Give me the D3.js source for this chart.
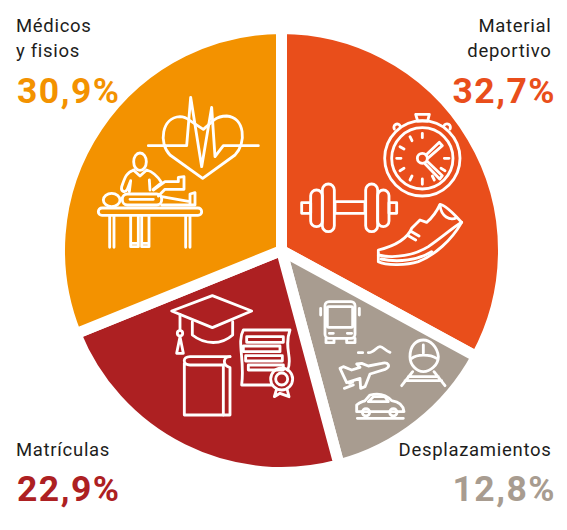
<!DOCTYPE html>
<html><head><meta charset="utf-8">
<style>html,body{margin:0;padding:0;background:#fff}svg{display:block}
.icon path,.icon rect,.icon circle,.icon ellipse,.icon line{fill:none;stroke:#fff;stroke-width:8.5;stroke-linejoin:round;stroke-linecap:round}</style>
<script src="https://cdn.jsdelivr.net/npm/d3@7/dist/d3.min.js"></script>
</head><body><svg id="c" width="567" height="530" viewBox="0 0 567 530"></svg>
<script>
const categories=[["Material","deportivo"],["Desplazamientos"],["Matrículas"],["Médicos","y fisios"]];
const values=[32.7,12.8,22.9,30.9];
const sliceColors=["#E94E1B","#A89C90","#AD2022","#F39200"];

const svg=d3.select("#c");
const cx=281.5,cy=250.5,R=216.5,gap=11;
const arcs=d3.pie().sort(null).value(d=>d)(values);
const arc=d3.arc().innerRadius(0).outerRadius(R+gap/2);
svg.append("g").attr("transform",`translate(${cx},${cy})`).selectAll("path").data(arcs).join("path")
 .attr("d",arc).attr("fill",(d,i)=>sliceColors[i]).attr("stroke","#fff").attr("stroke-width",gap).attr("stroke-linejoin","miter");

const fmt=v=>d3.format(".1f")(v).replace(".",",")+"%";
const labelPos=[
 {x:551.5,y:32,anchor:"end",px:556,py:103},
 {x:551.5,y:456,anchor:"end",px:556,py:501},
 {x:16,y:456,anchor:"start",px:17,py:501},
 {x:16,y:32,anchor:"start",px:17,py:103}];
const lab=svg.append("g");
categories.forEach((lines,i)=>{
 const p=labelPos[i];
 lines.forEach((t,j)=>lab.append("text").text(t).attr("x",p.x).attr("y",p.y+j*25)
  .attr("text-anchor",p.anchor).attr("fill","#1d1d1b")
  .style("font-family","Roboto").style("font-size","18.5px").style("letter-spacing","0.7px"));
 lab.append("text").text(fmt(values[i])).attr("x",p.px).attr("y",p.py)
  .attr("text-anchor",p.anchor).attr("fill",sliceColors[i])
  .style("font-family","Roboto").style("font-weight","700").style("font-size","35.5px").style("letter-spacing","1.5px");
});

const icons=[
{at:[90,90],html:`
<path d="M338 265L240 195C205 160 215 82 270 80C285 80 295 88 300 92L340 118L372 90C385 80 395 78 410 78C465 82 470 160 435 195Z"/>
<path d="M175 167H290L302 22L335 230L365 52L375 200L400 167H505"/>
<rect x="25" y="354" width="310" height="22" rx="11"/>
<path d="M59 377V472M72 377V472M287 377V472M300 377V472M122 377V470H145V377M155 377V470H177V377M122 460H145M155 460H177"/>
<ellipse cx="150" cy="215" rx="19" ry="26"/>
<path d="M132 240C108 248 105 262 95 290C92 305 105 310 112 298L122 272M122 272L118 305M178 270L180 300M130 240L150 258L170 240C188 245 205 262 215 278L190 298"/>
<ellipse cx="65" cy="330" rx="25" ry="20"/>
<rect x="97" y="312" width="118" height="33" rx="15"/>
<path d="M120 328H190M190 300L225 275H265V262L282 260V298H225L205 318M215 320L300 335V345H215M300 345V312L315 308V345H300"/>`},
{at:[295,105],html:`
<circle cx="382" cy="160" r="113"/><circle cx="382" cy="160" r="92"/><circle cx="382" cy="160" r="15"/>
<path d="M382 85V98M382 222V238M305 160H318M448 160H462M345 95L351 107M315 125L327 132M315 197L327 190M345 225L351 213M418 225L412 213M450 197L438 190"/>
<path d="M393 150L433 112L442 122L398 160M398 170L442 212L434 222L390 176"/>
<path d="M362 28H403L398 48H368ZM298 72A9 9 0 0 1 315 62M447 62A9 9 0 0 1 465 72"/>
<rect x="120" y="290" width="90" height="35"/>
<rect x="82" y="237" width="36" height="143" rx="18"/><rect x="47" y="255" width="35" height="110" rx="17"/><rect x="20" y="293" width="27" height="32"/>
<rect x="212" y="237" width="36" height="143" rx="18"/><rect x="248" y="255" width="34" height="110" rx="17"/><rect x="282" y="293" width="23" height="32"/>
<path d="M250 435C290 425 335 405 350 370L375 345L395 352C415 335 425 320 435 298C450 300 480 330 500 352C470 405 420 450 370 470C330 483 270 480 250 470Z"/>
<path d="M250 450C300 462 360 450 400 425C440 398 470 370 500 352M258 462C310 474 370 465 410 440M350 380L372 393M340 392L362 405M435 300C438 335 465 348 485 338"/>`},
{at:[165,285],html:`
<path d="M20 78L142 32L260 78L142 128Z"/>
<path d="M82 110V150C120 180 170 180 203 150V110"/>
<path d="M45 88V135M45 155L35 205H55Z"/><circle cx="45" cy="145" r="8"/>
<path d="M195 215H75C52 215 52 240 75 240H175V390H58V235"/><path d="M195 215C175 215 170 240 195 248V390H175"/>
<path d="M320 300H230C240 225 215 170 235 135H375C355 190 385 220 368 255"/>
<rect x="245" y="155" width="110" height="17"/><rect x="235" y="183" width="110" height="17"/><rect x="242" y="212" width="110" height="16"/><rect x="250" y="240" width="105" height="15"/>
<circle cx="350" cy="282" r="33"/><circle cx="350" cy="282" r="18"/>
<path d="M335 312L328 335L345 325L372 335L366 312"/>`},
{at:[310,290],html:`
<rect x="45" y="35" width="90" height="110" rx="12"/>
<rect x="52" y="50" width="76" height="62" rx="4"/>
<path d="M32 55V75M148 55V75M48 145V158H72V145M110 145V158H135V145M58 130H70M112 130H125"/>
<path d="M145 188H158M175 188C190 190 200 170 210 170C220 170 225 182 240 187"/>
<path d="M90 235L100 230L125 240L150 232L140 222L155 220L175 228L215 220C235 215 245 230 225 238L180 252L165 290L152 295L150 265L110 278Z"/>
<path d="M103 295L130 285M118 280L128 276"/>
<path d="M300 200C300 165 320 150 340 150C360 150 382 170 385 200C385 225 360 245 340 245C320 245 300 225 300 200Z"/>
<path d="M305 205C320 192 360 192 380 205M340 165V190M275 287L308 245M405 287L372 245M295 260H385M285 272H395"/>
<path d="M140 365V345C150 335 160 335 165 332L180 315C200 310 225 310 245 332C265 335 280 345 282 365H140Z"/>
<path d="M175 335L190 320H225L235 335ZM142 385H280"/><circle cx="168" cy="367" r="11"/><circle cx="250" cy="367" r="11"/>`}];
icons.forEach(ic=>{svg.append("g").attr("class","icon").attr("transform",`translate(${ic.at[0]},${ic.at[1]}) scale(${1/3})`).html(ic.html);});
</script></body></html>
